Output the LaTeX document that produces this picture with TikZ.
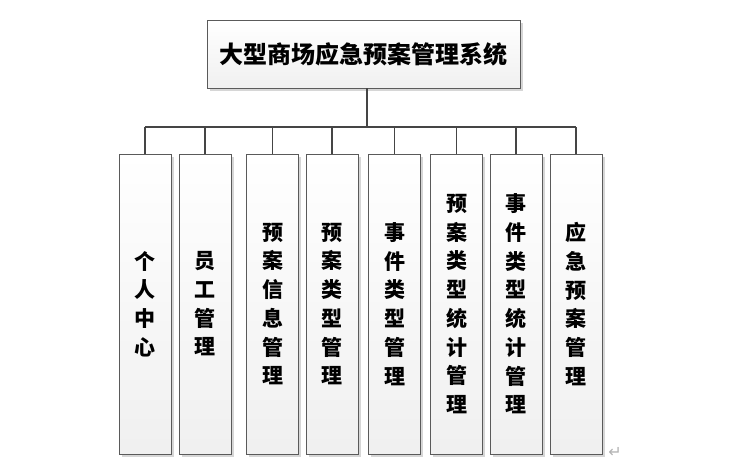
\documentclass[tikz,border=0pt]{standalone}
\usepackage{fontspec}
\newfontfamily\cjk{Noto Sans CJK SC}
\newfontfamily\symfont{DejaVu Sans}
\usetikzlibrary{shadows}

\definecolor{boxline}{HTML}{5A5A5A}
\definecolor{linkline}{HTML}{454545}

\tikzset{
    basebox/.style={draw=boxline, line width=0.9pt, top color=white, bottom color=gray!12,
        drop shadow={shadow xshift=2.5pt, shadow yshift=-2.5pt, fill=gray!40, opacity=0.8},
        inner sep=0pt, align=center},
    rootbox/.style={basebox, minimum width=313pt, minimum height=68pt,
        font=\cjk\bfseries\fontsize{24}{28}\selectfont},
    leafbox/.style={basebox, minimum width=52pt, minimum height=300pt,
        font=\cjk\bfseries\fontsize{21}{28.7}\selectfont},
    link/.style={draw=linkline, line width=1.6pt},
}

\begin{document}
\begin{tikzpicture}[x=1pt, y=-1pt]
    \useasboundingbox (0,0) rectangle (741,475);

    \node[rootbox] (root) at (363.5,54) {大型商场应急预案管理系统};

    % second level
    \node[leafbox] (c1) at (145,304) {个\\人\\中\\心};
    \node[leafbox] (c2) at (205,304) {员\\工\\管\\理};
    \node[leafbox] (c3) at (272.5,304) {预\\案\\信\\息\\管\\理};
    \node[leafbox] (c4) at (332,304) {预\\案\\类\\型\\管\\理};
    \node[leafbox] (c5) at (394.5,304) {事\\件\\类\\型\\管\\理};
    \node[leafbox] (c6) at (456.5,304) {预\\案\\类\\型\\统\\计\\管\\理};
    \node[leafbox] (c7) at (516,304) {事\\件\\类\\型\\统\\计\\管\\理};
    \node[leafbox] (c8) at (576,304) {应\\急\\预\\案\\管\\理};

    \coordinate (bus) at (0,127);
    \coordinate (trunk) at ([xshift=3.5pt]root.south);
    \draw[link] (trunk) -- (trunk |- bus);
    \draw[link] (c1.north |- bus) -- (c8.north |- bus);
    \foreach \i in {1,...,8}
        \draw[link] (c\i.north |- bus) -- (c\i.north);

    \node[text=gray!60, font=\symfont\fontsize{16}{16}\selectfont] (mark) at (615,452) {↵};
\end{tikzpicture}
\end{document}
